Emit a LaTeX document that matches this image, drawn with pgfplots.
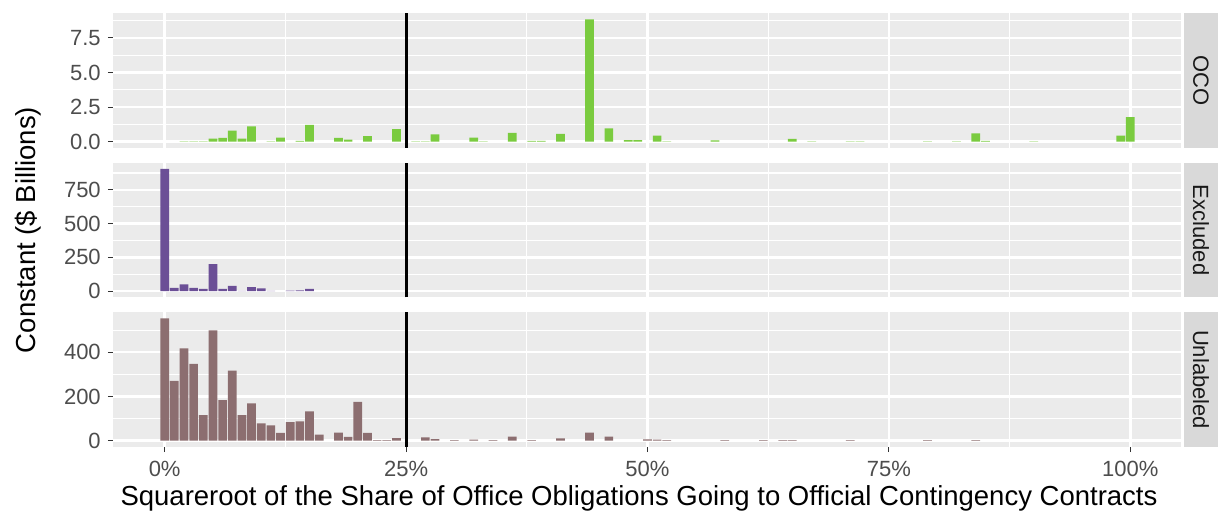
\documentclass[border=0pt]{standalone}
\usepackage{pgfplots}
\pgfplotsset{compat=1.18}
\usepackage{fontspec}
\setmainfont{Liberation Sans}
\definecolor{panelgrey}{HTML}{EBEBEB}
\definecolor{stripgrey}{HTML}{D9D9D9}
\definecolor{labelgrey}{HTML}{4D4D4D}
\definecolor{tickgrey}{HTML}{333333}
\definecolor{ocogreen}{HTML}{7ACB3F}
\definecolor{exclpurple}{HTML}{6B4F96}
\definecolor{unlbrown}{HTML}{8C6E70}

\pgfplotstableread{
bin val
2 0.02
3 0.02
4 0.03
5 0.22
6 0.27
7 0.80
8 0.22
9 1.10
11 0.03
12 0.30
14 0.05
15 1.22
18 0.27
19 0.15
21 0.40
24 0.90
26 0.02
27 0.02
28 0.53
32 0.30
33 0.03
36 0.63
38 0.05
39 0.05
41 0.57
44 8.84
46 0.97
48 0.12
49 0.12
51 0.43
52 0.02
57 0.10
65 0.20
67 0.02
71 0.02
72 0.02
79 0.02
82 0.02
84 0.60
85 0.05
90 0.02
99 0.43
100 1.77
}\oco

\pgfplotstableread{
bin val
0 905
1 25
2 50
3 25
4 17
5 201
6 17
7 40
8 2
9 30
10 20
11 3
13 5
14 6
15 17
}\excl

\pgfplotstableread{
bin val
0 553
1 270
2 418
3 347
4 116
5 499
6 184
7 317
8 116
9 169
10 78
11 69
12 35
13 84
14 87
15 133
16 27
18 36
19 17
20 176
21 35
22 2
23 2
24 12
27 15
28 7
30 2
32 5
34 2
36 18
38 2
41 10
44 36
46 18
50 6
51 5
52 3
58 3
62 2
64 2
65 2
71 2
79 2
84 3
}\unl

\pgfplotsset{
  panel/.style={
    scale only axis, width=534pt, height=67.25pt,
    anchor=north west,
    xmin=-5.35, xmax=105.25,
    axis background/.style={fill=panelgrey},
    axis line style={draw=none},
    grid=both,
    major grid style={white, line width=1.2pt},
    minor grid style={white, line width=0.6pt},
    xtick={0,25,50,75,100},
    minor xtick={12.5,37.5,62.5,87.5},
    tick align=outside,
    major tick length=2.6pt,
    minor tick length=0pt,
    tick style={color=tickgrey, line width=0.55pt},
    ticklabel style={font=\fontsize{11}{13}\selectfont, text=labelgrey},
    ytick pos=left, xtick pos=bottom,
  },
  bars/.style={ybar, bar width=0.9, bar shift=0pt, draw=none, fill=#1},
}

\begin{document}
\begin{tikzpicture}
\useasboundingbox (0pt,0pt) rectangle (609pt,-259.5pt);

% OCO
\begin{axis}[panel, at={(56.5pt,-6.65pt)},
  ymin=-0.442, ymax=9.282,
  ytick={0,2.5,5,7.5}, yticklabels={0.0,2.5,5.0,7.5},
  minor ytick={1.25,3.75,6.25,8.75},
  xticklabels={}, xtick style={draw=none}]
\addplot[bars=ocogreen] table[x=bin, y=val] {\oco};
\draw[black, line width=1.5pt] (axis cs:25,-0.442) -- (axis cs:25,9.282);
\end{axis}

% Excluded
\begin{axis}[panel, at={(56.5pt,-81.4pt)},
  ymin=-45.25, ymax=950.25,
  ytick={0,250,500,750}, yticklabels={0,250,500,750},
  minor ytick={125,375,625,875},
  xticklabels={}, xtick style={draw=none}]
\addplot[bars=exclpurple] table[x=bin, y=val] {\excl};
\draw[black, line width=1.5pt] (axis cs:25,-45.25) -- (axis cs:25,950.25);
\end{axis}

% Unlabeled
\begin{axis}[panel, at={(56.5pt,-156.15pt)},
  ymin=-27.65, ymax=580.65,
  ytick={0,200,400}, yticklabels={0,200,400},
  minor ytick={100,300,500},
  xticklabel style={yshift=-1pt},
  xticklabels={0\%,25\%,50\%,75\%,100\%}]
\addplot[bars=unlbrown] table[x=bin, y=val] {\unl};
\draw[black, line width=1.5pt] (axis cs:25,-27.65) -- (axis cs:25,580.65);
\end{axis}

% strips
\fill[stripgrey] (592pt,-6.65pt) rectangle (609pt,-73.9pt);
\fill[stripgrey] (592pt,-81.4pt) rectangle (609pt,-148.65pt);
\fill[stripgrey] (592pt,-156.15pt) rectangle (609pt,-223.4pt);
\node[rotate=-90, inner sep=0pt, font=\fontsize{11}{13}\selectfont, text={black!90}] at (600.5pt,-40.28pt) {OCO};
\node[rotate=-90, inner sep=0pt, font=\fontsize{11}{13}\selectfont, text={black!90}] at (600.5pt,-115.03pt) {Excluded};
\node[rotate=-90, inner sep=0pt, font=\fontsize{11}{13}\selectfont, text={black!90}] at (600.5pt,-189.78pt) {Unlabeled};

% axis titles
\node[rotate=90, font=\fontsize{13.75}{16}\selectfont] at (14pt,-115pt) {Constant (\$ Billions)};
\node[font=\fontsize{13.75}{16}\selectfont] at (319.5pt,-249pt) {Squareroot of the Share of Office Obligations Going to Official Contingency Contracts};
\end{tikzpicture}
\end{document}
